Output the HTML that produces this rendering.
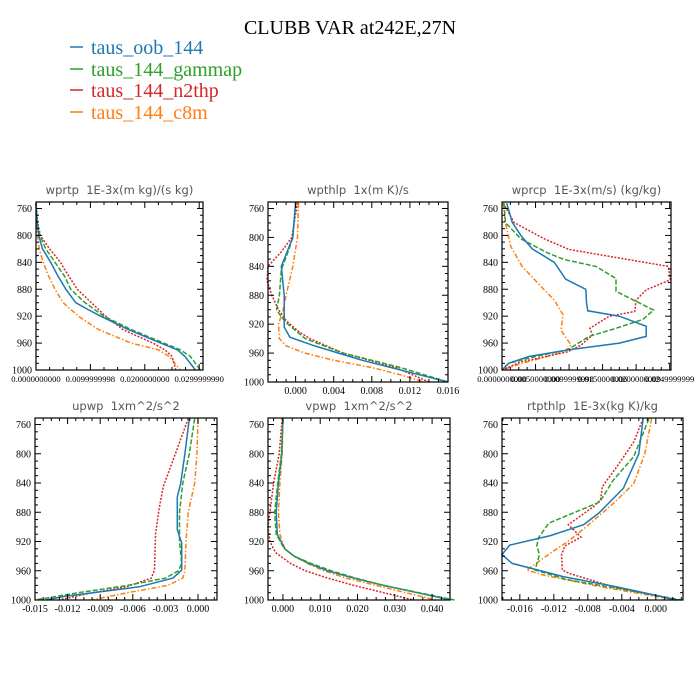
<!DOCTYPE html>
<html><head><meta charset="utf-8"><style>
html,body{margin:0;padding:0;background:#fff;width:700px;height:700px;overflow:hidden}
svg{display:block}
text{white-space:pre}
</style></head><body>
<svg id="fig" width="700" height="700" xmlns="http://www.w3.org/2000/svg">
<rect width="700" height="700" fill="#fff"/>
<text x="350" y="34" text-anchor="middle" font-family="Liberation Serif, serif" font-size="20">CLUBB VAR at242E,27N</text>
<g font-family="Liberation Serif, serif" font-size="20">
<g><line x1="70" y1="47" x2="83" y2="47" stroke="#1f77b4" stroke-width="1.5"/><text x="91" y="54" fill="#1f77b4">taus_oob_144</text></g>
<g><line x1="70" y1="69" x2="83" y2="69" stroke="#2ca02c" stroke-width="1.5"/><text x="91" y="76" fill="#2ca02c">taus_144_gammap</text></g>
<g><line x1="70" y1="90" x2="83" y2="90" stroke="#d62728" stroke-width="1.5"/><text x="91" y="97" fill="#d62728">taus_144_n2thp</text></g>
<g><line x1="70" y1="112" x2="83" y2="112" stroke="#ff7f0e" stroke-width="1.5"/><text x="91" y="119" fill="#ff7f0e">taus_144_c8m</text></g>
</g>
</svg>
<script>
// ---- data: pressure levels (hPa) and values per series ----
const wprtp_b_p=[752,780,800,820,840,860,880,900,910,920,940,960,970,980,1000];
const wprtp_b_v=[0,0.0002,0.0005,0.0012,0.0027,0.004,0.0055,0.0073,0.0095,0.0119,0.017,0.0229,0.026,0.0274,0.0293];
const wprtp_g_p=[752,780,800,820,840,860,880,900,920,940,960,970,980,1000];
const wprtp_g_v=[0,0.0002,0.0007,0.0018,0.0035,0.0052,0.0064,0.009,0.0125,0.0175,0.0235,0.0265,0.0284,0.0302];
const wprtp_r_p=[752,780,800,820,840,850,880,897,920,940,960,970,980,1000];
const wprtp_r_v=[0,0.0003,0.0008,0.0025,0.0045,0.0052,0.0076,0.0098,0.0128,0.016,0.0215,0.0237,0.025,0.0257];
const wprtp_o_p=[752,780,800,820,840,860,880,900,920,940,960,970,980,1000];
const wprtp_o_v=[0,0.0001,0.0003,0.0006,0.0013,0.0023,0.0035,0.005,0.0078,0.0115,0.0175,0.0225,0.0245,0.0265];

const wpthlp_b_p=[752,800,830,840,880,924,938,950,960,970,980,990,1000];
const wpthlp_b_v=[0,-0.0003,-0.0012,-0.0015,-0.0012,-0.0012,-0.0006,0.002,0.0045,0.007,0.010,0.013,0.016];
const wpthlp_g_p=[752,800,820,845,880,900,910,920,940,960,980,1000];
const wpthlp_g_v=[0,-0.0003,-0.0008,-0.0015,-0.0017,-0.002,-0.0015,-0.0008,0.001,0.005,0.011,0.016];
const wpthlp_r_p=[752,800,820,840,860,880,900,915,930,940,960,980,1000];
const wpthlp_r_v=[0.0002,-0.0004,-0.0015,-0.0029,-0.003,-0.0025,-0.0018,-0.001,0.0003,0.0015,0.005,0.0105,0.014];
const wpthlp_o_p=[752,800,840,880,900,920,940,950,960,970,980,990,1000];
const wpthlp_o_v=[0.0003,0.0002,-0.0003,-0.001,-0.0013,-0.0018,-0.0017,-0.001,0.001,0.004,0.008,0.011,0.0135];

const wprcp_b_p=[752,780,800,820,840,865,880,900,912,920,935,950,960,970,980,990,1000];
const wprcp_b_v=[0.0007,0.0015,0.0028,0.0045,0.0078,0.0095,0.0125,0.0126,0.0128,0.0175,0.0215,0.0215,0.0175,0.01,0.004,0.001,0];
const wprcp_g_p=[752,781,805,826,836,846,864,883,911,925,938,950,970,980,990,1000];
const wprcp_g_v=[0.0003,0.0005,0.0028,0.0068,0.0093,0.014,0.017,0.017,0.0226,0.021,0.017,0.013,0.0098,0.005,0.001,0];
const wprcp_r_p=[752,781,805,821,846,866,881,896,913,920,938,948,963,973,988,1000];
const wprcp_r_v=[0.0002,0.0018,0.0063,0.010,0.0248,0.0251,0.0215,0.020,0.0198,0.016,0.0131,0.0135,0.0118,0.0098,0.0028,0];
const wprcp_o_p=[752,781,816,846,881,896,918,941,963,973,990,1000];
const wprcp_o_v=[0.0002,0.0005,0.0013,0.003,0.0063,0.0078,0.0091,0.0088,0.0103,0.0093,0.003,0];

const upwp_b_p=[752,800,841,859,904,922,959,970,982,995,1000];
const upwp_b_v=[-0.0008,-0.0012,-0.0016,-0.0019,-0.0019,-0.0015,-0.0015,-0.0023,-0.0054,-0.0122,-0.014];
const upwp_g_p=[752,800,840,880,920,950,960,970,980,990,1000];
const upwp_g_v=[-0.0003,-0.0008,-0.0014,-0.0017,-0.0017,-0.0015,-0.0018,-0.003,-0.0065,-0.011,-0.015];
const upwp_r_p=[752,809,845,877,909,959,970,982,991,1000];
const upwp_r_v=[-0.0009,-0.0023,-0.0032,-0.0036,-0.0039,-0.004,-0.0043,-0.0066,-0.010,-0.0128];
const upwp_o_p=[752,800,840,860,880,920,960,970,980,990,1000];
const upwp_o_v=[0,-0.0001,-0.0003,-0.0006,-0.0009,-0.0011,-0.0012,-0.0014,-0.0028,-0.0065,-0.0098];

const vpwp_b_p=[752,800,840,880,910,930,940,950,960,970,980,990,1000];
const vpwp_b_v=[0,-0.0003,-0.0012,-0.0018,-0.0015,0.0005,0.003,0.007,0.012,0.019,0.027,0.036,0.045];
const vpwp_g_p=[752,800,840,880,910,930,940,950,960,970,980,990,1000];
const vpwp_g_v=[0,-0.0004,-0.0014,-0.0022,-0.0018,0.0004,0.003,0.0075,0.013,0.0195,0.027,0.0365,0.046];
const vpwp_r_p=[752,800,840,880,900,920,935,950,960,970,980,990,1000];
const vpwp_r_v=[-0.0002,-0.001,-0.0025,-0.0035,-0.004,-0.0035,-0.002,0.002,0.006,0.012,0.019,0.027,0.035];
const vpwp_o_p=[752,800,840,880,910,930,940,950,960,970,980,990,1000];
const vpwp_o_v=[0,-0.0002,-0.0008,-0.0012,-0.0008,0.0005,0.003,0.0065,0.011,0.017,0.025,0.033,0.041];

const rtpthlp_b_p=[752,800,847,881,897,912,925,938,950,968,982,1000];
const rtpthlp_b_v=[-0.0015,-0.002,-0.0038,-0.0067,-0.0085,-0.0124,-0.0172,-0.0181,-0.0169,-0.0109,-0.0046,0.0025];
const rtpthlp_g_p=[752,804,836,866,895,915,926,938,959,972,984,1000];
const rtpthlp_g_v=[-0.0008,-0.0026,-0.005,-0.0066,-0.0126,-0.0138,-0.014,-0.0137,-0.0142,-0.0105,-0.0046,0.003];
const rtpthlp_r_p=[752,784,818,845,863,872,897,914,926,938,959,964,982,1000];
const rtpthlp_r_v=[-0.0015,-0.0026,-0.0046,-0.0063,-0.0065,-0.0073,-0.0103,-0.0088,-0.0107,-0.0111,-0.011,-0.0101,-0.005,0.0025];
const rtpthlp_o_p=[752,800,841,868,895,918,936,959,966,982,1000];
const rtpthlp_o_v=[-0.0005,-0.0013,-0.0026,-0.005,-0.0077,-0.0101,-0.0124,-0.0152,-0.0132,-0.0065,0.0025];

// tick labels
const yTicks=[760,800,840,880,920,960,1000];
const wprtp_xt=[0,0.01,0.02,0.03];
const wprtp_xl=["0.0000000000","0.0099999998","0.0200000000","0.0299999990"];
const wpthlp_xt=[0,0.004,0.008,0.012,0.016];
const wpthlp_xl=["0.000","0.004","0.008","0.012","0.016"];
const wprcp_xt=[0,0.005,0.01,0.015,0.02,0.025];
const wprcp_xl=["0.0000000000","0.0050000000","0.0099999998","0.0150000006","0.0200000009","0.0249999999"];
const upwp_xt=[-0.015,-0.012,-0.009,-0.006,-0.003,0];
const upwp_xl=["-0.015","-0.012","-0.009","-0.006","-0.003","0.000"];
const vpwp_xt=[0,0.01,0.02,0.03,0.04];
const vpwp_xl=["0.000","0.010","0.020","0.030","0.040"];
const rtpthlp_xt=[-0.016,-0.012,-0.008,-0.004,0];
const rtpthlp_xl=["-0.016","-0.012","-0.008","-0.004","0.000"];

const NS="http://www.w3.org/2000/svg";
const svg=document.getElementById('fig');
const COL={b:"#1f77b4",g:"#2ca02c",r:"#d62728",o:"#ff7f0e"};
const DASH={b:"",g:"5,2",r:"2,1.5",o:"5,2,1.5,2"};
function mk(tag,attrs,parent){const e=document.createElementNS(NS,tag);for(const k in attrs)e.setAttribute(k,attrs[k]);(parent||svg).appendChild(e);return e;}

function panel(name,title,L,R,T,B,xmin,xmax,xt,xl,series,labelSize){
  const g=mk('g',{});
  
  
  const y760=T+6.5;
  const ys=p=>y760+(p-760)*(B-y760)/240;
  const xs=v=>L+(v-xmin)/(xmax-xmin)*(R-L);
  const t=mk('text',{x:(L+R)/2,y:T-8,'text-anchor':'middle','font-family':'DejaVu Sans, sans-serif','font-size':'11.5',fill:'#555'},g);
  
  
  t.textContent=title;
  series.forEach(s=>{
    const pts=s.p.map((p,i)=>xs(s.v[i]).toFixed(1)+','+ys(p).toFixed(1)).join(' ');
    const pl=mk('polyline',{points:pts,fill:'none',stroke:COL[s.k],'stroke-width':'1.5','stroke-dasharray':DASH[s.k]},g);
    
    
  });
  const fr=mk('rect',{x:L,y:T,width:R-L,height:B-T,fill:'none',stroke:'#000','stroke-width':'1.2'},g);
  
  
  for(let p=760;p<=1000;p+=10){
    const y=ys(p);const maj=(p-760)%40===0;const len=maj?6:3;
    mk('line',{x1:L,y1:y,x2:L+len,y2:y,stroke:'#000','stroke-width':'1'},g);
    mk('line',{x1:R,y1:y,x2:R-len,y2:y,stroke:'#000','stroke-width':'1'},g);
  }
  yTicks.forEach(p=>{
    const tx=mk('text',{x:L-4,y:ys(p)+3.5,'text-anchor':'end','font-family':'Liberation Serif, serif','font-size':'10'},g);
    
    
    tx.textContent=p;
  });
  const step=xt[1]-xt[0];const minor=step/4;
  for(let v=xt[0]-4*minor;v<=xmax+1e-9;v+=minor){
    if(v<xmin-1e-9)continue;
    const x=xs(v);const k=Math.round((v-xt[0])/minor);const maj=k%4===0;const len=maj?6:3;
    mk('line',{x1:x,y1:B,x2:x,y2:B-len,stroke:'#000','stroke-width':'1'},g);
    mk('line',{x1:x,y1:T,x2:x,y2:T+len,stroke:'#000','stroke-width':'1'},g);
  }
  xt.forEach((v,i)=>{
    const tx=mk('text',{x:xs(v),y:B+12,'text-anchor':'middle','font-family':'Liberation Serif, serif','font-size':labelSize||'10'},g);
    
    
    tx.textContent=xl[i];
  });
}
function S(k,p,v){return {k,p,v};}
panel('wprtp','wprtp  1E-3x(m kg)/(s kg)',36,203,202,370,0,0.0307,wprtp_xt,wprtp_xl,
 [S('o',wprtp_o_p,wprtp_o_v),S('r',wprtp_r_p,wprtp_r_v),S('g',wprtp_g_p,wprtp_g_v),S('b',wprtp_b_p,wprtp_b_v)],'8.6');
panel('wpthlp','wpthlp  1x(m K)/s',268,448,202,382,-0.0029,0.016,wpthlp_xt,wpthlp_xl,
 [S('o',wpthlp_o_p,wpthlp_o_v),S('r',wpthlp_r_p,wpthlp_r_v),S('g',wpthlp_g_p,wpthlp_g_v),S('b',wpthlp_b_p,wpthlp_b_v)]);
panel('wprcp','wprcp  1E-3x(m/s) (kg/kg)',502,671,202,370,0,0.0252,wprcp_xt,wprcp_xl,
 [S('o',wprcp_o_p,wprcp_o_v),S('r',wprcp_r_p,wprcp_r_v),S('g',wprcp_g_p,wprcp_g_v),S('b',wprcp_b_p,wprcp_b_v)],'8.6');
panel('upwp','upwp  1xm^2/s^2',35,217,418,600,-0.015,0.00175,upwp_xt,upwp_xl,
 [S('o',upwp_o_p,upwp_o_v),S('r',upwp_r_p,upwp_r_v),S('g',upwp_g_p,upwp_g_v),S('b',upwp_b_p,upwp_b_v)]);
panel('vpwp','vpwp  1xm^2/s^2',268,450,418,600,-0.004,0.0448,vpwp_xt,vpwp_xl,
 [S('o',vpwp_o_p,vpwp_o_v),S('r',vpwp_r_p,vpwp_r_v),S('b',vpwp_b_p,vpwp_b_v),S('g',vpwp_g_p,vpwp_g_v)]);
panel('rtpthlp','rtpthlp  1E-3x(kg K)/kg',502,683,418,600,-0.0181,0.0032,rtpthlp_xt,rtpthlp_xl,
 [S('o',rtpthlp_o_p,rtpthlp_o_v),S('r',rtpthlp_r_p,rtpthlp_r_v),S('g',rtpthlp_g_p,rtpthlp_g_v),S('b',rtpthlp_b_p,rtpthlp_b_v)]);
</script>
</body></html>
